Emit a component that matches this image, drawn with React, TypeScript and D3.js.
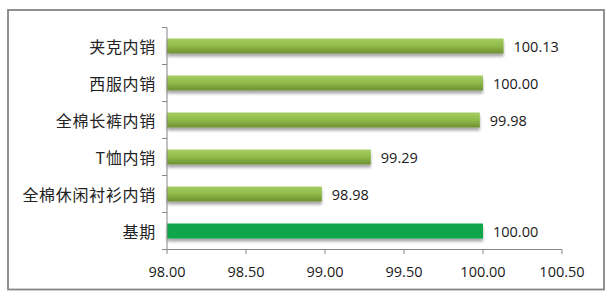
import React from "react";
import * as d3 from "d3";

const categories = ["夹克内销", "西服内销", "全棉长裤内销", "T恤内销", "全棉休闲衬衫内销", "基期"];
const values = [100.13, 100.0, 99.98, 99.29, 98.98, 100.0];
const xTicks = [98.0, 98.5, 99.0, 99.5, 100.0, 100.5];

const W = 609;
const H = 298;

export default function App() {
  const x = d3.scaleLinear().domain([98, 100.5]).range([167, 562]);
  const yOuter = d3.scaleBand<string>().domain(categories).range([27.5, 249.5]);
  const bw = 15;
  const cjk = "'Noto Sans CJK SC', 'Noto Sans', sans-serif";
  const num = "'Open Sans', 'Noto Sans', sans-serif";
  return (
    <svg width={W} height={H} style={{ position: "absolute", left: 0, top: 0 }}>
      <defs>
        <linearGradient id="gb" x1="0" y1="0" x2="0" y2="1">
          <stop offset="0" stopColor="#a6cd62" />
          <stop offset="0.5" stopColor="#8fba48" />
          <stop offset="1" stopColor="#6e8f33" />
        </linearGradient>
        <filter id="sh" x="-5%" y="-30%" width="110%" height="190%">
          <feGaussianBlur in="SourceAlpha" stdDeviation="1.5" />
          <feOffset dx="0" dy="2.5" result="b" />
          <feComponentTransfer>
            <feFuncA type="linear" slope="0.35" />
          </feComponentTransfer>
          <feMerge>
            <feMergeNode />
            <feMergeNode in="SourceGraphic" />
          </feMerge>
        </filter>
      </defs>
      <rect x={0} y={0} width={W} height={H} fill="#fff" />
      <rect x={8} y={10} width={596} height={279.5} fill="#fff" stroke="#858585" strokeWidth={1.8} />
      {categories.map((c, i) => {
        const cy = (yOuter(c) as number) + yOuter.bandwidth() / 2;
        const isBase = i === categories.length - 1;
        return (
          <g key={c}>
            <rect
              x={x(98)}
              y={cy - bw / 2}
              width={x(values[i]) - x(98)}
              height={bw}
              fill={isBase ? "#0ba64c" : "url(#gb)"}
              filter="url(#sh)"
            />
            <text x={156} y={cy} textAnchor="end" dominantBaseline="central" fontFamily={cjk} fontSize={16} letterSpacing={0.7} fill="#222">
              {c}
            </text>
            <text x={x(values[i]) + 10} y={cy} dominantBaseline="central" fontFamily={num} fontSize={14.5} fill="#1a1a1a">
              {values[i].toFixed(2)}
            </text>
          </g>
        );
      })}
      <line x1={167} x2={167} y1={27.5} y2={249.5} stroke="#868686" strokeWidth={1} />
      {categories.map((c) => (
        <line key={c} x1={162} x2={167} y1={yOuter(c) as number} y2={yOuter(c) as number} stroke="#868686" />
      ))}
      <line x1={162} x2={167} y1={249.5} y2={249.5} stroke="#868686" />
      <line x1={167} x2={562} y1={249.5} y2={249.5} stroke="#868686" />
      {xTicks.map((t) => (
        <g key={t}>
          <line x1={x(t)} x2={x(t)} y1={249.5} y2={254} stroke="#868686" />
          <text x={x(t)} y={271} textAnchor="middle" dominantBaseline="central" fontFamily={num} fontSize={14.5} fill="#1a1a1a">
            {t.toFixed(2)}
          </text>
        </g>
      ))}
    </svg>
  );
}
